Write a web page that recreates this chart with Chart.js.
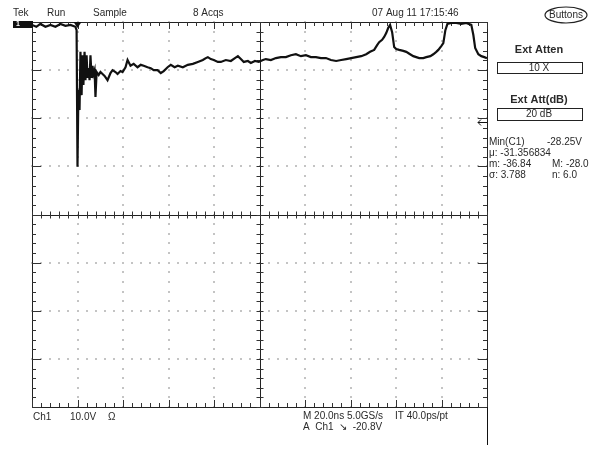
<!DOCTYPE html>
<html>
<head>
<meta charset="utf-8">
<script src="https://cdn.jsdelivr.net/npm/chart.js@4"></script>
<style>
  html, body { margin: 0; padding: 0; background: #fff; }
  #wrap { width: 602px; height: 451px; position: relative; }
</style>
</head>
<body>
<div id="wrap"><canvas id="myChart"></canvas></div>
<script>
// time in ns (trigger at 0), 20 ns/div
const timeNs = [
  -20, -18.1, -16.3, -14.1, -11.9, -9.7, -7.5, -5.3, -3.1, -0.9, -0.4,
  0, 0.4, 0.9, 1.3, 1.8, 2.2, 2.6, 3.1, 3.5, 4.0, 4.4, 4.8, 5.3, 5.7, 6.2, 6.6, 7.0, 7.5, 7.9, 8.4,
  9.3, 10.1, 11.0, 11.9, 13.2, 14.5, 15.4, 16.7, 17.6, 18.9, 19.8, 21.1, 22.0, 23.3, 24.7, 26.4,
  27.8, 29.1, 30.8, 32.2, 33.5, 35.2, 36.6, 37.9, 39.6, 41.0, 42.7, 44.1, 46.3, 48.5, 50.7, 52.9,
  55.1, 56.4, 57.3, 58.6, 59.9, 61.7, 63.0, 65.2, 67.4, 69.2, 70.5, 71.8, 73.1, 74.9, 76.2, 78.0,
  79.7, 81.5, 82.8, 85.0, 87.2, 89.4, 91.6, 93.8, 96.0, 98.2, 100.4, 102.6, 104.8, 107.0, 109.2,
  111.4, 113.7, 115.9, 118.1, 120.3, 122.5, 124.7, 126.9, 128.6, 130.4, 131.7, 132.6, 133.9,
  134.8, 135.7, 136.6, 137.4, 138.3, 139.2, 140.1, 141.4, 143.2, 144.5, 146.2, 147.6, 148.9,
  150.2, 152.0, 153.3, 155.1, 156.4, 157.7, 158.6, 159.9, 160.8, 161.7, 162.6, 164.3, 166.5,
  168.7, 170.9, 173.1, 174.0, 174.8, 176.2, 177.5, 178.8, 180
];
// Ch1 volts, 10 V/div, ground marker at top edge
const ch1Volts = [
  -0.6, -1.0, -0.4, -1.0, -0.6, -1.0, -0.4, -0.8, -0.6, -1.0, -1.7,
  -30.1, -14.1, -18.3, -6.2, -15.2, -6.9, -13.1, -6.2, -12.1, -6.9, -11.6, -9.6, -12.1, -6.9, -11.6, -9.1, -10.8, -10.0, -15.6, -10.4,
  -11.0, -10.4, -10.8, -11.2, -12.1, -10.6, -10.0, -10.4, -10.8, -10.2, -10.4, -9.4, -7.9, -9.1, -8.7, -9.4,
  -8.9, -9.1, -9.4, -9.6, -10.0, -10.0, -10.6, -10.2, -9.4, -8.9, -9.4, -9.1, -9.4, -8.9, -8.7, -8.3,
  -7.9, -7.5, -7.3, -7.7, -7.9, -8.3, -8.3, -7.9, -8.1, -7.5, -7.1, -7.7, -8.3, -8.1, -8.5, -8.1,
  -8.3, -7.9, -7.7, -7.9, -7.5, -7.3, -7.3, -6.9, -6.7, -7.1, -6.9, -7.3, -7.3, -7.5, -7.5,
  -7.9, -8.1, -7.9, -7.7, -7.5, -7.3, -7.1, -6.7, -6.2, -5.8, -4.8, -4.2, -3.7,
  -3.1, -2.3, -1.2, -0.6, -2.1, -5.2, -5.6, -5.8, -6.0, -6.2, -6.7, -7.1, -7.3,
  -7.5, -7.5, -7.3, -7.1, -6.7, -6.2, -5.8, -5.0, -4.4, -1.7, -0.4, -0.2, -0.2,
  -0.4, -0.2, -0.6, -2.7, -5.4, -6.7, -7.1, -7.3, -7.5
];
const xMajor = [-20, 0, 20, 40, 60, 80, 100, 120, 140, 160, 180];
const yMajor = [0, -10, -20, -30, -40, -50, -60, -70, -80];
const trigLevel = -20.8;

const headerTexts = ['Tek', 'Run', 'Sample', '8 Acqs', '07 Aug 11 17:15:46'];
const headerX = [13, 47, 93, 193, 372];
const measLines = [['Min(C1)', '-28.25V'], ['\u03bc: -31.356834', ''], ['m: -36.84', 'M: -28.0'], ['\u03c3: 3.788', 'n: 6.0']];

const FONT = '10px "Liberation Sans", Arial, sans-serif';
const BOLD = 'bold 11px "Liberation Sans", Arial, sans-serif';

const graticule = {
  id: 'graticule',
  beforeDatasetsDraw(chart) {
    const {ctx, chartArea: a, scales: {x, y}} = chart;
    const xMinor = [], yMinor = [];
    for (let i = 0; i < xMajor.length - 1; i++)
      for (let k = 0; k < 5; k++) xMinor.push(xMajor[i] + k * (xMajor[i + 1] - xMajor[i]) / 5);
    xMinor.push(xMajor[xMajor.length - 1]);
    for (let i = 0; i < yMajor.length - 1; i++)
      for (let k = 0; k < 5; k++) yMinor.push(yMajor[i] + k * (yMajor[i + 1] - yMajor[i]) / 5);
    yMinor.push(yMajor[yMajor.length - 1]);
    const cx = x.getPixelForValue(80), cy = y.getPixelForValue(-40);
    ctx.save();
    // dotted grid
    ctx.fillStyle = '#c4c4c4';
    xMajor.slice(1, -1).forEach(v => {
      if (v === 80) return;
      const px = Math.round(x.getPixelForValue(v));
      yMinor.forEach(w => ctx.fillRect(px - 1, Math.round(y.getPixelForValue(w)) - 1, 2, 2));
    });
    yMajor.slice(1, -1).forEach(v => {
      if (v === -40) return;
      const py = Math.round(y.getPixelForValue(v));
      xMinor.forEach(w => ctx.fillRect(Math.round(x.getPixelForValue(w)) - 1, py - 1, 2, 2));
    });
    // frame and center axes
    ctx.strokeStyle = '#222';
    ctx.lineWidth = 1;
    ctx.beginPath();
    ctx.rect(Math.round(a.left) + 0.5, Math.round(a.top) + 0.5, Math.round(a.width), Math.round(a.height));
    ctx.moveTo(Math.round(cx) + 0.5, a.top); ctx.lineTo(Math.round(cx) + 0.5, a.bottom);
    ctx.moveTo(a.left, Math.round(cy) + 0.5); ctx.lineTo(a.right, Math.round(cy) + 0.5);
    ctx.stroke();
    ctx.strokeStyle = '#333';
    ctx.beginPath();
    xMinor.forEach((w, i) => {
      const px = Math.round(x.getPixelForValue(w)) + 0.5;
      const L = i % 5 === 0 ? 7 : 4;
      ctx.moveTo(px, a.top); ctx.lineTo(px, a.top + L);
      ctx.moveTo(px, a.bottom); ctx.lineTo(px, a.bottom - L);
      ctx.moveTo(px, cy - 3); ctx.lineTo(px, cy + 4);
    });
    yMinor.forEach((w, i) => {
      const py = Math.round(y.getPixelForValue(w)) + 0.5;
      const L = i % 5 === 0 ? 9 : 4;
      ctx.moveTo(a.left, py); ctx.lineTo(a.left + L, py);
      ctx.moveTo(a.right, py); ctx.lineTo(a.right - L, py);
      ctx.moveTo(cx - 3, py); ctx.lineTo(cx + 4, py);
    });
    ctx.stroke();
    ctx.restore();
  },
  afterDraw(chart) {
    const {ctx, chartArea: a, scales: {x, y}} = chart;
    ctx.save();
    ctx.fillStyle = '#2a2a2a';
    ctx.font = FONT;
    ctx.textBaseline = 'middle';
    headerTexts.forEach((t, i) => ctx.fillText(t, headerX[i], 13));
    // channel 1 ground marker
    const g = Math.round(y.getPixelForValue(0));
    ctx.fillStyle = '#111';
    ctx.fillRect(13, g - 1, 20, 7);
    ctx.fillStyle = '#fff';
    ctx.font = 'bold 7px "Liberation Sans", Arial, sans-serif';
    ctx.fillText('1', 16, g + 2.5);
    // trigger position marker
    const tp = x.getPixelForValue(0);
    ctx.fillStyle = '#111';
    ctx.beginPath();
    ctx.moveTo(tp - 4, a.top); ctx.lineTo(tp + 4, a.top); ctx.lineTo(tp, a.top + 6); ctx.closePath();
    ctx.fill();
    // trigger level marker
    const tl = Math.round(y.getPixelForValue(trigLevel)) + 0.5;
    ctx.strokeStyle = '#111';
    ctx.beginPath();
    ctx.moveTo(a.right - 9, tl); ctx.lineTo(a.right, tl);
    ctx.moveTo(a.right - 9, tl); ctx.lineTo(a.right - 6, tl - 3);
    ctx.moveTo(a.right - 9, tl); ctx.lineTo(a.right - 6, tl + 3);
    ctx.stroke();
    // separator below screen
    ctx.beginPath();
    ctx.moveTo(Math.round(a.right) + 0.5, a.bottom); ctx.lineTo(Math.round(a.right) + 0.5, 445);
    ctx.stroke();
    // footer
    ctx.fillStyle = '#2a2a2a';
    ctx.font = FONT;
    ctx.fillText('Ch1', 33, 417);
    ctx.fillText('10.0V', 70, 417);
    ctx.fillText('\u03a9', 108, 417);
    ctx.fillText('M 20.0ns 5.0GS/s', 303, 416);
    ctx.fillText('IT 40.0ps/pt', 395, 416);
    ctx.fillText('A  Ch1  \u2198  -20.8V', 303, 427);
    // side menu
    ctx.strokeStyle = '#222';
    ctx.lineWidth = 1.2;
    ctx.beginPath();
    ctx.ellipse(566, 15, 21, 8, 0, 0, Math.PI * 2);
    ctx.stroke();
    ctx.textAlign = 'center';
    ctx.fillText('Buttons', 566, 15);
    ctx.font = BOLD;
    ctx.fillText('Ext Atten', 539, 50);
    ctx.fillText('Ext Att(dB)', 539, 100);
    ctx.lineWidth = 1;
    ctx.strokeRect(497.5, 62.5, 85, 11);
    ctx.strokeRect(497.5, 108.5, 85, 12);
    ctx.font = FONT;
    ctx.fillText('10 X', 539, 68);
    ctx.fillText('20 dB', 539, 114.5);
    measLines.forEach((r, i) => {
      const yy = 142 + i * 11;
      ctx.textAlign = 'left';
      ctx.fillText(r[0], 489, yy);
      if (i === 0) { ctx.textAlign = 'right'; ctx.fillText(r[1], 582, yy); }
      else if (r[1]) ctx.fillText(r[1], 552, yy);
    });
    ctx.restore();
  }
};

const ctx = document.getElementById('myChart');
const myChart = new Chart(ctx, {
  type: 'line',
  data: {
    datasets: [{
      label: 'Ch1',
      data: timeNs.map((t, i) => ({x: t, y: ch1Volts[i]})),
      borderColor: '#111',
      borderWidth: 2.2,
      pointRadius: 0,
      tension: 0,
      fill: false
    }]
  },
  options: {
    responsive: true,
    maintainAspectRatio: false,
    animation: false,
    events: [],
    layout: { padding: { left: 32, top: 22, right: 115, bottom: 44 } },
    plugins: { legend: { display: false }, tooltip: { enabled: false } },
    scales: {
      x: { type: 'linear', min: -20, max: 180, display: false },
      y: { type: 'linear', min: -80, max: 0, display: false }
    }
  },
  plugins: [graticule]
});
</script>
</body>
</html>
